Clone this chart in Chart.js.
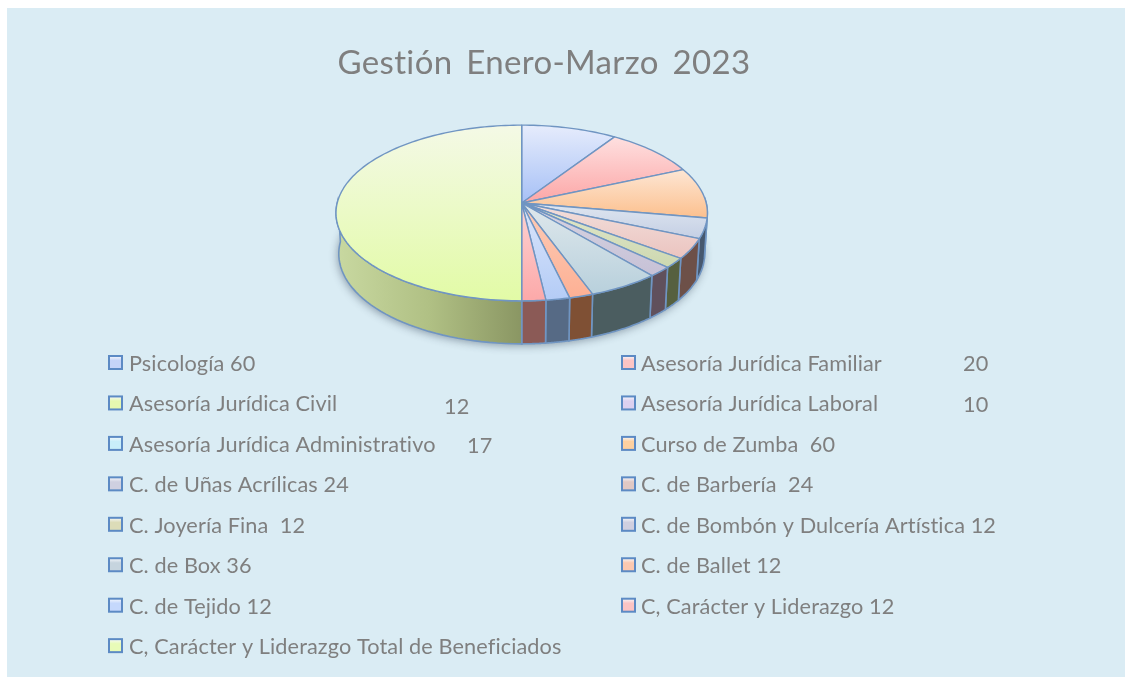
<!DOCTYPE html>
<html lang="es">
<head>
<meta charset="utf-8">
<title>Gestión Enero-Marzo 2023</title>
<script src="https://cdn.jsdelivr.net/npm/chart.js@4/dist/chart.umd.min.js"></script>
<style>
html,body{margin:0;padding:0;background:#fff;width:1125px;height:677px;overflow:hidden}
#panel{position:absolute;left:7px;top:8px;width:1118px;height:669px;background:#daecf4}
#wrap{position:absolute;left:0;top:0;width:1088px;height:677px}
</style>
</head>
<body>
<div id="panel"></div>
<div id="wrap"><canvas id="c" width="1088" height="677"></canvas></div>
<script>
const chartTitle = 'Gestión Enero-Marzo 2023';
const categories = ['Psicología','Asesoría Jurídica Familiar','Asesoría Jurídica Civil','Asesoría Jurídica Laboral','Asesoría Jurídica Administrativo','Curso de Zumba','C. de Uñas Acrílicas','C. de Barbería','C. Joyería Fina','C. de Bombón y Dulcería Artística','C. de Box','C. de Ballet','C. de Tejido','C, Carácter y Liderazgo','C, Carácter y Liderazgo Total de Beneficiados'];
const sliceValues = [60,59,0,0,0,60,24,24,12,12,36,12,12,12,323];
const legendNumbers = ['60','20','12','10','17','60','24','24','12','12','36','12','12','12',''];
const legendGaps = [' ','','','','',' \u00a0',' ','\u00a0 ','\u00a0 ',' ',' ',' ',' ',' ',''];
const detachedNumberX = {1:963,2:444,3:963,4:467};
const topColors = ['#e6ecfc','#fee0e0','#fce8d8','#dfe6f0','#dfe6f0','#fde6d4','#dfe6f0','#f2dfdc','#e2e8cc','#d8d4e2','#dfe8ec','#fdcdb8','#dbe6fb','#fdd3d3','#f4f9e6'];
const bottomColors = ['#a6c0f6','#fca6a6','#e2fba8','#d6c8ec','#bfeafa','#fcc08e','#c4cfe4','#ebc4bf','#cdd8b0','#c6c1d6','#b8d0dc','#fdb094','#b4ccf6','#fca9a9','#e2fba6'];
const wallColors = ['#5a6a88','#8b5a56','#7a8a50','#5f5a78','#4f7a88','#7f5f3f','#47586e','#6d5048','#56603f','#60505c','#4b5d60','#7f5034','#566a85','#8b5a56','#8a9663'];
const swatchColors = ['#c5d4f8','#fcc4c4','#e6f8b0','#dcd0f0','#c8eefa','#fdd0a0','#cfd0e0','#e0c8c4','#dcdcb8','#d0cfe0','#c6d4de','#fcc8b0','#c5d8fc','#fcc4c4','#e8fbb8'];

const TEXT = '#7f7f7f', LINE = '#7095c2';
const APEX_X = 521.7, APEX_Y = 203, TILT = 0.1136, SQUASH = 0.47;

function project(arc, angle){
  const u = Math.cos(angle), v = Math.sin(angle);
  const d = 1 - TILT*v, R = arc.outerRadius;
  return [APEX_X + R*u/d, APEX_Y + R*SQUASH*v/d];
}
function rimBottom(arc, angle){
  const p = project(arc, angle), v = Math.sin(angle);
  return [APEX_X + (p[0]-APEX_X)*0.985, p[1] + 40.5 + 2.5*v];
}
function sample(a0, a1, n){
  const out = [];
  for(let i=0;i<=n;i++) out.push(a0+(a1-a0)*i/n);
  return out;
}
const pie3d = {
  id:'pie3d',
  beforeDraw(chart){ chart.ctx.wordSpacing = '5px'; chart.ctx.letterSpacing = '0.35px'; },
  beforeDatasetDraw(chart, args){
    const ctx = chart.ctx, arcs = args.meta.data;
    const ref = arcs[0];
    ctx.save();
    ctx.save();
    ctx.shadowColor = 'rgba(40,55,75,0.45)';
    ctx.shadowBlur = 9; ctx.shadowOffsetX = -1; ctx.shadowOffsetY = 2;
    ctx.fillStyle = '#8a9663';
    ctx.beginPath();
    sample(0,Math.PI*2,120).forEach((a,i)=>{const p=rimBottom(ref,a); i?ctx.lineTo(p[0],p[1]):ctx.moveTo(p[0],p[1]);});
    ctx.closePath(); ctx.fill();
    ctx.restore();
    arcs.forEach((arc,i)=>{
      if(!(arc.endAngle>arc.startAngle)) return;
      const a0 = Math.max(arc.startAngle,-0.02), a1 = Math.min(arc.endAngle,Math.PI+0.02);
      if(a1<=a0) return;
      const as = sample(a0,a1,40);
      ctx.beginPath();
      as.forEach((a,j)=>{const p=project(arc,a); j?ctx.lineTo(p[0],p[1]):ctx.moveTo(p[0],p[1]);});
      as.slice().reverse().forEach(a=>{const p=rimBottom(arc,a); ctx.lineTo(p[0],p[1]);});
      ctx.closePath();
      if(i===arcs.length-1){
        const g = ctx.createLinearGradient(338,0,APEX_X,0);
        g.addColorStop(0,'#c8d8a0'); g.addColorStop(0.5,'#b0c084'); g.addColorStop(1,wallColors[i]);
        ctx.fillStyle = g;
      } else ctx.fillStyle = wallColors[i];
      ctx.fill();
      ctx.lineWidth = 1.6; ctx.strokeStyle = LINE; ctx.stroke();
    });
    arcs.forEach((arc,i)=>{
      if(!(arc.endAngle>arc.startAngle)) return;
      const as = sample(arc.startAngle,arc.endAngle,Math.max(8,Math.ceil((arc.endAngle-arc.startAngle)*40)));
      const pts = as.map(a=>project(arc,a));
      const ys = pts.map(p=>p[1]).concat(APEX_Y);
      const g = ctx.createLinearGradient(0,Math.min(...ys),0,Math.max(...ys));
      g.addColorStop(0,topColors[i]); g.addColorStop(1,bottomColors[i]);
      ctx.beginPath();
      ctx.moveTo(APEX_X,APEX_Y);
      pts.forEach(p=>ctx.lineTo(p[0],p[1]));
      ctx.closePath();
      ctx.fillStyle = g; ctx.fill();
      ctx.lineWidth = 1.4; ctx.lineJoin='round'; ctx.strokeStyle = LINE; ctx.stroke();
    });
    ctx.restore();
    return false;
  },
  afterDraw(chart){
    const ctx = chart.ctx;
    ctx.save();
    ctx.wordSpacing = '0px';
    ctx.letterSpacing = '0.1px';
    ctx.font = '21.7px Lato, "Open Sans", sans-serif';
    ctx.textBaseline = 'middle';
    categories.forEach((name,i)=>{
      const col = i%2, row = Math.floor(i/2);
      const bx = col? 622:109, y = 362.5 + row*40.45;
      const g = ctx.createLinearGradient(0,y-6.5,0,y+6.5);
      g.addColorStop(0,'#f6f8fc'); g.addColorStop(0.35,swatchColors[i]); g.addColorStop(1,swatchColors[i]);
      ctx.fillStyle = g; ctx.fillRect(bx,y-6.5,13,13);
      ctx.lineWidth = 2; ctx.strokeStyle = '#5c8ac4'; ctx.strokeRect(bx,y-6.5,13,13);
      ctx.fillStyle = TEXT;
      const tx = col? 641:129;
      const ty = y + 1.5;
      if(detachedNumberX[i]!==undefined){
        ctx.fillText(name,tx,ty);
        ctx.fillText(legendNumbers[i],detachedNumberX[i],ty+(i===2?3:(i===1?0:1)));
      } else {
        ctx.fillText(name+legendGaps[i]+legendNumbers[i],tx,ty);
      }
    });
    ctx.restore();
  }
};
new Chart(document.getElementById('c'),{
  type:'pie',
  data:{labels:categories,datasets:[{data:sliceValues,backgroundColor:bottomColors,borderColor:LINE,borderWidth:1}]},
  options:{
    responsive:false,animation:false,
    rotation:0,
    radius:184.5,
    layout:{padding:0},
    plugins:{
      legend:{display:false},
      tooltip:{enabled:false},
      title:{display:true,text:chartTitle,color:'#7f7f7f',font:{family:'Lato, "Open Sans", sans-serif',size:33,weight:'normal',lineHeight:1.2},padding:{top:44,bottom:0}}
    }
  },
  plugins:[pie3d]
});
</script>
</body>
</html>
